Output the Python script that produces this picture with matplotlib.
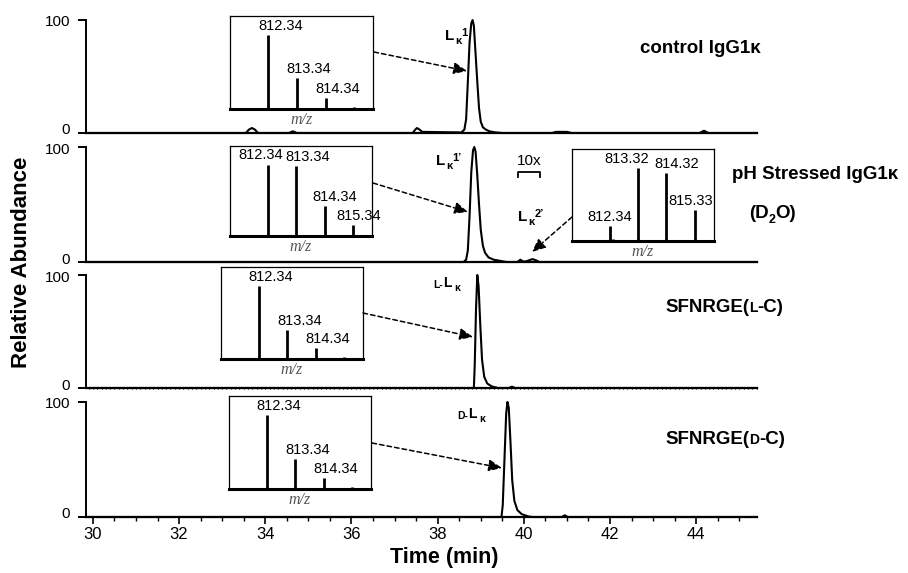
import matplotlib
matplotlib.use("Agg")
import matplotlib.pyplot as plt
from matplotlib.lines import Line2D
from matplotlib.ticker import MultipleLocator

plt.rcParams['font.family'] = ['Liberation Sans', 'DejaVu Sans']

W, H = 908, 573

# chromatogram traces (time in min, relative abundance)
t_control = [29.84, 33.55, 33.62, 33.69, 33.76, 33.83, 34.55, 34.64, 34.73, 37.42, 37.48, 37.52, 37.58, 37.64,
             38.55, 38.62, 38.66, 38.70, 38.74, 38.78, 38.81, 38.84, 38.88, 38.92, 38.96, 39.00, 39.05, 39.12,
             39.20, 39.35, 39.50, 40.65, 40.75, 41.0, 41.1, 44.08, 44.18, 44.28, 45.41]
a_control = [0, 0, 3, 4.4, 3, 0, 0, 1.5, 0, 0, 3, 4.4, 3, 1,
             0.5, 3, 12, 45, 80, 97, 100, 95, 70, 45, 22, 10, 5, 3,
             1.5, 0.5, 0, 0, 1, 1, 0, 0, 2, 0, 0]

t_stress = [29.84, 38.60, 38.66, 38.70, 38.74, 38.78, 38.82, 38.85, 38.88, 38.92, 38.96, 39.00, 39.05, 39.10,
            39.18, 39.30, 39.45, 39.60, 39.85, 39.92, 39.98, 40.05, 40.12, 40.20, 40.28, 40.36, 45.41]
a_stress = [0, 0, 2, 10, 40, 78, 97, 100, 96, 75, 50, 28, 14, 8,
            4, 2, 1, 0, 0, 2, 0.5, 0.5, 1.5, 2.5, 1.5, 0, 0]

t_lc = [29.84, 38.84, 38.86, 38.89, 38.92, 38.95, 38.99, 39.03, 39.08, 39.15, 39.25, 39.40, 39.65, 39.72, 39.80, 45.41]
a_lc = [0, 0, 20, 70, 100, 90, 55, 25, 10, 4, 1.5, 0, 0, 1.2, 0, 0]

t_dc = [29.84, 39.48, 39.51, 39.55, 39.59, 39.62, 39.65, 39.69, 39.73, 39.78, 39.85, 39.95, 40.10, 40.20,
        40.88, 40.95, 41.02, 45.41]
a_dc = [0, 0, 10, 50, 90, 100, 95, 65, 32, 14, 6, 2.5, 0.5, 0, 0, 1.5, 0, 0]

# mass spectra insets
mz_control = [812.34, 813.34, 814.34, 815.34]
int_control = [100, 42, 15, 3]
mz_d2o_a = [812.34, 813.34, 814.34, 815.34]
int_d2o_a = [100, 98, 42, 15]
mz_d2o_b = [812.34, 812.46, 813.32, 814.32, 815.33]
int_d2o_b = [20, 3, 100, 93, 42]
mz_lc = [812.34, 813.34, 814.34, 815.34]
int_lc = [100, 40, 15, 3]
mz_dc = [812.34, 813.34, 814.34, 815.34]
int_dc = [100, 40, 15, 3]

xticks = [30, 32, 34, 36, 38, 40, 42, 44]
yticks = [0, 100]

fig = plt.figure(figsize=(W / 100, H / 100), dpi=100)


def rect(l, t, r, b):
    return [l / W, 1 - b / H, (r - l) / W, (b - t) / H]


# overlay in pixel coordinates for annotations (drawn on top)
ov = fig.add_axes([0, 0, 1, 1], zorder=10)
ov.set_xlim(0, W)
ov.set_ylim(H, 0)
ov.axis('off')

# main panels: (pixel y of 100, pixel y of 0)
panels = [(20, 133), (147, 262), (275, 388), (402, 517)]
traces = [(t_control, a_control), (t_stress, a_stress), (t_lc, a_lc), (t_dc, a_dc)]
for i, ((ytop, ybot), (tt, aa)) in enumerate(zip(panels, traces)):
    ax = fig.add_axes(rect(86, ytop, 757, ybot))
    ax.patch.set_alpha(0)
    ax.plot(tt, aa, color='black', lw=1.5, clip_on=False, solid_joinstyle='round')
    ax.set_xlim(29.84, 45.41)
    ax.set_ylim(0, 100)
    for s in ['top', 'right']:
        ax.spines[s].set_visible(False)
    ax.spines['left'].set_linewidth(1.4)
    ax.spines['bottom'].set_linewidth(1.6)
    ax.set_yticks(yticks)
    ax.set_yticklabels([])
    ax.tick_params(axis='y', direction='out', length=6, width=1.4)
    # y tick labels, nudged apart slightly where panels meet
    for v in yticks:
        ypix = ybot + (ytop - ybot) * v / 100
        ypix += 2.5 if v == 100 else -2.5
        ov.text(70, ypix, str(v), fontsize=11, ha='right', va='center')
    if i == 3:
        ax.set_xticks(xticks)
        ax.xaxis.set_minor_locator(MultipleLocator(0.5))
        ax.tick_params(axis='x', which='major', direction='out', length=5, width=1.2, labelsize=12, pad=2)
        ax.tick_params(axis='x', which='minor', direction='out', length=3, width=1)
    elif i == 2:
        ax.set_xticks([])
        ax.xaxis.set_minor_locator(MultipleLocator(0.1))
        ax.tick_params(axis='x', which='minor', direction='inout', length=2, width=0.8)
    else:
        ax.set_xticks([])

# inset boxes: (l, t, r, b) in pixels, data, label offsets in px
insets = [
    ((230, 16, 373, 109), mz_control, int_control, [12, 12, 12, None]),
    ((230, 146, 372, 236), mz_d2o_a, int_d2o_a, [-7, 11, 10, 5]),
    ((572, 149, 714, 241), mz_d2o_b, int_d2o_b, [0, None, -11, 10, -4]),
    ((221, 267, 363, 359), mz_lc, int_lc, [12, 12, 12, None]),
    ((229, 396, 371, 489), mz_dc, int_dc, [12, 12, 12, None]),
]
for box, mz, inten, offs in insets:
    iax = fig.add_axes(rect(*box), zorder=5)
    iax.vlines(mz, 0, inten, color='black', lw=2)
    iax.set_xlim(811.0, 816.0)
    iax.set_ylim(0, 126)
    iax.set_xticks([])
    iax.set_yticks([])
    for s in iax.spines.values():
        s.set_linewidth(0.9)
    iax.spines['bottom'].set_linewidth(2.2)
    for m, v, dx in zip(mz, inten, offs):
        if dx is None:
            continue
        iax.annotate(f"{m:.2f}", (m, v), xytext=(dx * 0.72, 1.5), textcoords='offset points',
                     ha='center', va='bottom', fontsize=10.5)
    iax.set_xlabel('m/z', fontsize=11.5, family='Liberation Serif', style='italic', color='#555555', labelpad=2)

arrows = [((374, 52), (467, 71)), ((373, 183), (468, 212)), ((572, 217), (532, 252)),
          ((363, 313), (473, 337)), ((372, 443), (502, 468))]
for start, end in arrows:
    ov.annotate('', xy=end, xytext=start,
                arrowprops=dict(arrowstyle='-|>,head_length=0.8,head_width=0.35', ls=(0, (3, 2)),
                                lw=1.1, color='black', shrinkA=0, shrinkB=0))


def chain(x, y, parts, weight='bold'):
    prev = None
    for s, size, dx, dy in parts:
        if prev is None:
            prev = ov.text(x, y, s, fontsize=size, fontweight=weight, ha='left', va='bottom')
        else:
            prev = ov.annotate(s, xy=(1, 0), xycoords=prev, xytext=(dx, dy), textcoords='offset points',
                               fontsize=size, fontweight=weight, ha='left', va='bottom')


chain(445, 43, [("L", 11, 0, 0), ("κ", 8, 0.5, -2.5), ("1", 8, 0, 6)])
chain(436, 168, [("L", 11, 0, 0), ("κ", 8, 0.5, -2.5), ("1’", 8, 0, 6)])
chain(518, 224, [("L", 11, 0, 0), ("κ", 8, 0.5, -2.5), ("2’", 8, 0, 6)])
chain(433, 290, [("L-", 7.5, 0, 0), ("L", 10, 0, 0), ("κ", 7.5, 2, -2.5)])
chain(457, 421, [("D-", 7.5, 0, 0), ("L", 10, 0, 0), ("κ", 7.5, 2, -2.5)])

chain(640, 57, [("control IgG1κ", 13.5, 0, 0)])
chain(732, 183, [("pH Stressed IgG1κ", 13.5, 0, 0)])
chain(749, 222, [("(D", 13.5, 0, 0), ("2", 9, 0, -3), ("O)", 13.5, 0, 3)])
chain(665, 316, [("SFNRGE(", 13.5, 0, 0), ("L", 10, 0, 0.5), ("-C)", 13.5, 0, -0.5)])
chain(665, 448, [("SFNRGE(", 13.5, 0, 0), ("D", 10, 0, 0.5), ("-C)", 13.5, 0, -0.5)])

# 10x scale bar
ov.text(529, 168, "10x", fontsize=11, ha='center', va='bottom')
ov.add_line(Line2D([518, 518, 540, 540], [177, 172, 172, 177], color='black', lw=1.3))

ov.text(22, 262, "Relative Abundance", rotation=90, fontsize=16, fontweight='bold', ha='center', va='center')
ov.text(444, 558, "Time (min)", fontsize=15.5, fontweight='bold', ha='center', va='center')

fig.savefig("out.png", dpi=100)
